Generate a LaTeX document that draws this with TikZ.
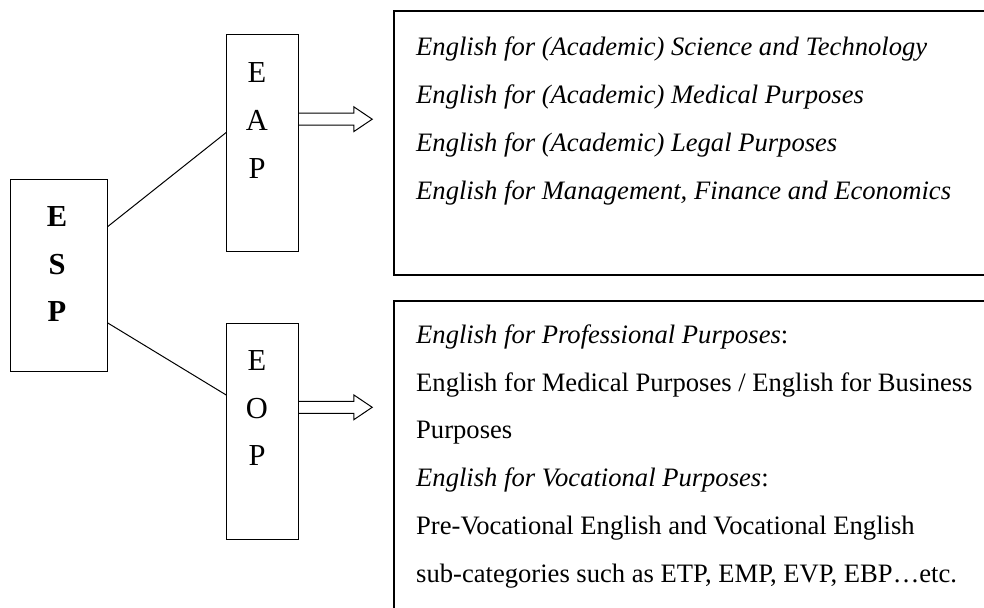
\documentclass[tikz,border=0pt]{standalone}
\usepackage{fontspec}
\setmainfont{Liberation Serif}
\usetikzlibrary{calc}
\tikzset{
  smallbox/.style={draw, line width=1pt, inner sep=0pt, rectangle},
  bigbox/.style={draw, line width=1.5pt, inner sep=0pt, rectangle},
  letter/.style={anchor=base, inner sep=0pt, font=\fontsize{30.5}{36}\selectfont},
  bletter/.style={letter, font=\fontsize{30.5}{36}\selectfont\bfseries},
  itline/.style={anchor=base west, inner sep=0pt, font=\fontsize{26.6}{32}\selectfont\itshape},
  rmline/.style={anchor=base west, inner sep=0pt, font=\fontsize{26.6}{32}\selectfont},
  link/.style={line width=1pt},
  blockarrow/.style={line width=1pt, line join=miter}
}
\begin{document}
\begin{tikzpicture}[x=1pt,y=-1pt]
\useasboundingbox (0,0) rectangle (984,607);
\clip (0,0) rectangle (984,607);
\fill[white] (0,0) rectangle (984,607);
% boxes
\node[smallbox, minimum width=96.6, minimum height=192] (esp) at (59,275) {};
\node[smallbox, minimum width=72, minimum height=216] (eap) at (262.7,143) {};
\node[smallbox, minimum width=72, minimum height=216] (eop) at (262.7,431) {};
\node[bigbox, minimum width=606, minimum height=264] (top) at (697,143) {};
\node[bigbox, minimum width=606, minimum height=330] (bot) at (697,466) {};
% letters
\node[bletter] (e1) at (57,226) {E};
\node[bletter] (s1) at (57,274) {S};
\node[bletter] (p1) at (57,321.7) {P};
\node[letter] (e2) at (257,83) {E};
\node[letter] (a2) at (257,131) {A};
\node[letter] (p2) at (257,178.5) {P};
\node[letter] (e3) at (257,370) {E};
\node[letter] (o3) at (257,418) {O};
\node[letter] (p3) at (257,465.7) {P};
% connectors
\draw[link] ($(esp.east)+(0,-48.5)$) -- ($(eap.west)+(0,-10.5)$);
\draw[link] ($(esp.east)+(0,48)$) -- ($(eop.west)+(0,-36)$);
% block arrows
\coordinate (ta) at ($(eap.east)+(0,-23.8)$);
\draw[blockarrow] ($(ta)+(0,-6)$) -- ++(54.6,0) -- ++(0,-6.4) -- ($(ta)+(73,0)$)
  -- ($(ta)+(54.6,12.4)$) -- ++(0,-6.4) -- ($(ta)+(0,6)$);
\coordinate (tb) at ($(eop.east)+(0,-23.7)$);
\draw[blockarrow] ($(tb)+(0,-6)$) -- ++(54.6,0) -- ++(0,-6.4) -- ($(tb)+(73,0)$)
  -- ($(tb)+(54.6,12.4)$) -- ++(0,-6.4) -- ($(tb)+(0,6)$);
% top box text
\node[itline] (t1) at (416,56) {English for (Academic) Science and Technology};
\node[itline] (t2) at (416,103.8) {English for (Academic) Medical Purposes};
\node[itline] (t3) at (416,151.6) {English for (Academic) Legal Purposes};
\node[itline] (t4) at (416,199.4) {English for Management, Finance and Economics};
% bottom box text
\node[rmline] (b1) at (416,343.2) {\textit{English for Professional Purposes}:};
\node[rmline] (b2) at (416,391) {English for Medical Purposes / English for Business};
\node[rmline] (b3) at (416,438.8) {Purposes};
\node[rmline] (b4) at (416,486.6) {\textit{English for Vocational Purposes}:};
\node[rmline] (b5) at (416,534.4) {Pre-Vocational English and Vocational English};
\node[rmline] (b6) at (416,582.6) {sub-categories such as ETP, EMP, EVP, EBP\dots etc.};
\end{tikzpicture}
\end{document}
